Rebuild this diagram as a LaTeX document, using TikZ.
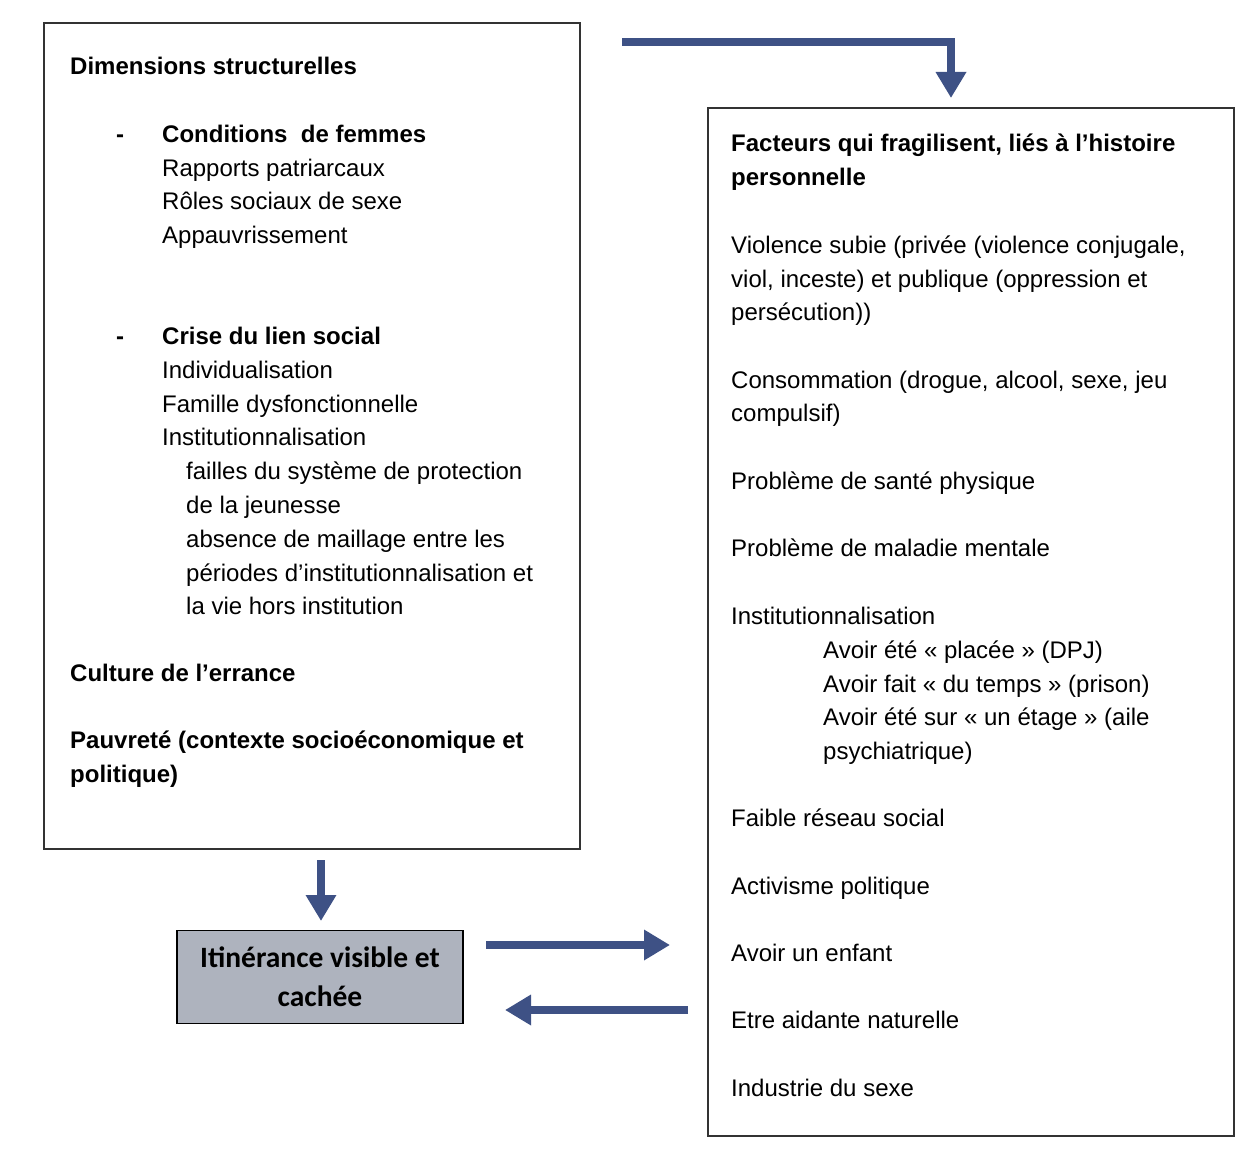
\documentclass[tikz,border=0pt]{standalone}
\usepackage{fontspec}
\setmainfont{Liberation Sans}
\newfontfamily\calib{Carlito}
\usetikzlibrary{arrows.meta}
\definecolor{arr}{HTML}{3E5185}
\definecolor{gbox}{HTML}{AEB3BE}
\definecolor{frm}{HTML}{333333}
\begin{document}
\begin{tikzpicture}[x=1pt,y=-1pt,
  frame/.style={draw=frm, line width=1.6pt, anchor=north west, inner sep=0pt},
  t/.style={anchor=base west, inner sep=0pt, font=\fontsize{24}{28}\selectfont},
  tb/.style={anchor=base west, inner sep=0pt, font=\fontsize{24}{28}\selectfont\bfseries},
  fat/.style={draw=arr, line width=8.5pt, line join=miter, -{Triangle[width=29pt,length=26pt]}},
  itin/.style={draw=black, line width=1.8pt, fill=gbox, minimum width=286pt, minimum height=93pt, inner sep=0pt, align=center, font=\calib\bfseries\fontsize{29.5}{39}\selectfont}]
\useasboundingbox (0,0) rectangle (1243,1172);

% boxes
\node[frame, minimum width=536pt, minimum height=826pt] (L) at (43,22) {};
\node[frame, minimum width=526pt, minimum height=1028pt] (R) at (707,107) {};
\node[itin] (I) at (320,977) {Itinérance visible et\\cachée};

% left box text
\node[tb] (l0) at (70,75) {Dimensions structurelles};
\node[tb] (l1d) at (116,142) {-};
\node[tb] (l1) at (162,142) {Conditions\ \ de femmes};
\node[t] (l2) at (162,176) {Rapports patriarcaux};
\node[t] (l3) at (162,209) {Rôles sociaux de sexe};
\node[t] (l4) at (162,243) {Appauvrissement};
\node[tb] (l5d) at (116,344) {-};
\node[tb] (l5) at (162,344) {Crise du lien social};
\node[t] (l6) at (162,378) {Individualisation};
\node[t] (l7) at (162,412) {Famille dysfonctionnelle};
\node[t] (l8) at (162,445) {Institutionnalisation};
\node[t] (l9) at (186,479) {failles du système de protection};
\node[t] (l10) at (186,513) {de la jeunesse};
\node[t] (l11) at (186,547) {absence de maillage entre les};
\node[t] (l12) at (186,581) {périodes d’institutionnalisation et};
\node[t] (l13) at (186,614) {la vie hors institution};
\node[tb] (l14) at (70,681) {Culture de l’errance};
\node[tb] (l15) at (70,748) {Pauvreté (contexte socioéconomique et};
\node[tb] (l16) at (70,782) {politique)};

% right box text
\node[tb] (r0) at (731,151) {Facteurs qui fragilisent, liés à l’histoire};
\node[tb] (r1) at (731,185) {personnelle};
\node[t] (r2) at (731,253) {Violence subie (privée (violence conjugale,};
\node[t] (r3) at (731,287) {viol, inceste) et publique (oppression et};
\node[t] (r4) at (731,320) {persécution))};
\node[t] (r5) at (731,388) {Consommation (drogue, alcool, sexe, jeu};
\node[t] (r6) at (731,421) {compulsif)};
\node[t] (r7) at (731,489) {Problème de santé physique};
\node[t] (r8) at (731,556) {Problème de maladie mentale};
\node[t] (r9) at (731,624) {Institutionnalisation};
\node[t] (r10) at (823,658) {Avoir été « placée » (DPJ)};
\node[t] (r11) at (823,692) {Avoir fait « du temps » (prison)};
\node[t] (r12) at (823,725) {Avoir été sur « un étage » (aile};
\node[t] (r13) at (823,759) {psychiatrique)};
\node[t] (r14) at (731,826) {Faible réseau social};
\node[t] (r15) at (731,894) {Activisme politique};
\node[t] (r16) at (731,961) {Avoir un enfant};
\node[t] (r17) at (731,1028) {Etre aidante naturelle};
\node[t] (r18) at (731,1096) {Industrie du sexe};

% arrows
\coordinate (a0) at (622,42);
\coordinate (a1) at (951,42);
\coordinate (a2) at (951,98);
\draw[fat] (a0) -- (a1) -- (a2);

\coordinate (b0) at (321,860);
\coordinate (b1) at (321,921);
\draw[fat] (b0) -- (b1);

\coordinate (c0) at (486,945);
\coordinate (c1) at (670,945);
\draw[fat] (c0) -- (c1);

\coordinate (d0) at (688,1010);
\coordinate (d1) at (505,1010);
\draw[fat] (d0) -- (d1);
\end{tikzpicture}
\end{document}
